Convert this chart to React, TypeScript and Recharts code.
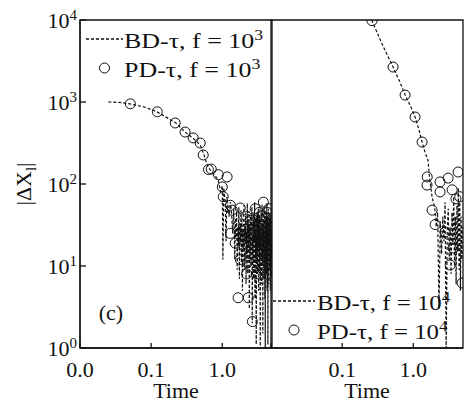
import React from 'react';
import { ComposedChart, Line, Scatter, XAxis, YAxis, ReferenceArea, Legend } from 'recharts';

const FONT = '"Liberation Serif", "Times New Roman", serif';
const INK = '#111';

const timeDomain = [0.01, 5];
const timeTicks = [0.01, 0.1, 1];
const timeLabelsLeft = ['0.0', '0.1', '1.0'];
const timeLabelsRight = ['', '0.1', '1.0'];
const dxDomain = [1, 10000];
const dxTicks = [1, 10, 100, 1000, 10000];
const dxExponents = ['0', '1', '2', '3', '4'];

// BD-tau, f = 10^3   [time, |dX|]
const bdLow = [
  [0.025, 1000], [0.035, 990], [0.05, 950], [0.08, 870], [0.12, 760], [0.18, 620],
  [0.22, 560], [0.3, 430], [0.39, 360], [0.49, 300], [0.55, 230], [0.63, 160],
  [0.72, 140], [0.8, 125], [0.88, 110], [0.95, 80], [1.0, 95], [1.02, 12],
  [1.05, 90], [1.1, 60], [1.13, 20], [1.16, 70], [1.2, 55], [1.25, 40], [1.3, 60],
  [1.35, 45], [1.4, 25], [1.45, 50],
  [1.5, 12], [1.53, 38], [1.56, 22], [1.59, 45], [1.62, 9], [1.65, 30], [1.68, 18],
  [1.71, 52], [1.74, 7], [1.77, 33], [1.8, 20], [1.83, 48], [1.86, 11], [1.89, 36],
  [1.92, 5], [1.95, 28], [1.98, 16], [2.01, 55], [2.04, 9], [2.07, 31], [2.1, 19],
  [2.13, 44], [2.16, 6], [2.19, 26], [2.22, 14], [2.25, 58], [2.28, 8], [2.31, 34],
  [2.34, 21], [2.37, 47], [2.4, 3], [2.43, 29], [2.46, 13], [2.49, 41], [2.52, 10],
  [2.55, 37], [2.58, 17], [2.61, 53], [2.64, 2], [2.67, 24], [2.7, 12], [2.73, 43],
  [2.76, 7], [2.79, 32], [2.82, 19], [2.85, 60], [2.88, 4], [2.91, 27], [2.94, 15],
  [2.97, 39], [3.0, 1.1], [3.03, 23], [3.06, 11], [3.09, 46], [3.12, 8], [3.15, 35],
  [3.18, 18], [3.21, 50], [3.24, 5], [3.27, 29], [3.3, 13], [3.33, 42], [3.36, 9],
  [3.39, 31], [3.42, 1.05], [3.45, 25], [3.48, 16], [3.51, 48], [3.54, 6], [3.57, 33],
  [3.6, 20], [3.63, 56], [3.66, 10], [3.69, 27], [3.72, 1.5], [3.75, 36], [3.78, 14],
  [3.81, 44], [3.84, 7], [3.87, 30], [3.9, 17], [3.93, 52], [3.96, 4], [3.99, 26],
  [4.02, 1.0], [4.05, 38], [4.08, 12], [4.11, 47], [4.14, 8], [4.17, 32], [4.2, 19],
  [4.23, 58], [4.26, 5], [4.29, 24], [4.32, 13], [4.35, 40], [4.38, 1.1], [4.41, 29],
  [4.44, 15], [4.47, 50], [4.5, 6], [4.53, 34], [4.56, 18], [4.59, 45], [4.62, 9],
  [4.65, 28], [4.68, 14], [4.71, 39], [4.74, 5], [4.77, 31], [4.8, 16], [4.83, 42],
  [4.86, 8], [4.89, 25], [4.92, 12],
];

// PD-tau, f = 10^3
const pdLow = [
  [0.051, 950], [0.122, 760], [0.218, 555], [0.3, 430], [0.39, 365], [0.49, 316],
  [0.54, 226], [0.64, 150], [0.7, 152], [0.88, 130], [1.17, 122], [1.0, 92],
  [1.03, 70], [1.3, 55], [1.38, 48], [1.3, 25], [1.52, 19], [1.79, 12], [1.79, 51],
  [2.25, 11], [2.32, 4.1], [1.67, 4.1], [2.65, 2.1], [2.48, 36], [3.78, 60],
  [4.3, 45], [4.7, 22], [4.9, 12], [2.1, 28], [2.7, 18], [3.1, 30], [3.4, 12],
  [3.9, 20], [4.2, 8], [2.9, 50], [3.6, 40],
  [2.0, 18], [2.2, 40], [2.4, 25], [2.5, 14], [2.8, 30], [3.0, 8], [3.2, 22],
  [3.5, 15], [3.7, 28], [3.8, 9], [4.0, 35], [4.1, 14], [4.4, 25], [4.6, 16],
  [4.8, 30], [2.2, 8], [3.3, 45], [4.5, 50],
];

// BD-tau, f = 10^4
const bdHigh = [
  [0.26, 10000], [0.36, 5200], [0.52, 2670], [0.64, 1800], [0.77, 1216], [0.92, 880],
  [1.06, 656], [1.2, 460], [1.33, 325], [1.45, 250], [1.61, 195], [1.69, 122],
  [1.84, 69], [2.0, 52], [2.1, 30], [2.2, 45], [2.3, 3], [2.4, 35], [2.5, 14],
  [2.6, 40], [2.7, 20], [2.8, 60], [2.9, 1.0], [3.0, 25], [3.1, 50], [3.2, 12],
  [3.3, 30], [3.4, 8], [3.5, 45], [3.6, 18], [3.7, 70], [3.8, 10], [3.9, 40],
  [4.0, 6], [4.1, 55], [4.2, 15], [4.3, 90], [4.4, 9], [4.5, 60], [4.6, 5],
  [4.7, 40], [4.8, 12], [4.9, 30],
];

// PD-tau, f = 10^4
const pdHigh = [
  [0.263, 9800], [0.52, 2670], [0.767, 1216], [1.06, 656], [1.33, 325], [1.57, 122],
  [1.56, 97], [2.38, 106], [3.09, 118], [4.27, 140], [2.38, 80], [3.52, 85],
  [1.84, 48], [2.03, 32], [2.8, 26], [3.98, 66], [4.5, 70], [3.63, 16.6],
  [3.3, 10.3], [4.85, 6.2],
];

const legendLow = [
  { label: 'BD-τ, f = 10', exp: '3', mark: 'dash' },
  { label: 'PD-τ, f = 10', exp: '3', mark: 'ring' },
];
const legendHigh = [
  { label: 'BD-τ, f = 10', exp: '4', mark: 'dash' },
  { label: 'PD-τ, f = 10', exp: '4', mark: 'ring' },
];

const rows = (pairs: number[][]) => pairs.map(([t, v]) => ({ t, v }));

const ring = (p: any) => (
  <circle cx={p.cx} cy={p.cy} r={5} fill="none" stroke={INK} strokeWidth={1} />
);

const timeTick = (labels: string[]) => (p: any) => (
  <text x={p.x} y={p.y + 32} textAnchor="middle" fontFamily={FONT} fontSize={22} fill={INK}>
    {labels[p.index]}
  </text>
);

const dxTick = (p: any) => (
  <text x={p.x - 7} y={p.y + 8} textAnchor="end" fontFamily={FONT} fontSize={22} fill={INK}>
    10<tspan dy={-8} fontSize={15}>{dxExponents[p.index]}</tspan>
  </text>
);

const legendBlock = (items: any[], x: number, y: number, gap: number, sampleW: number, textX: number, sx: number) => () => (
  <svg width={466} height={402} style={{ overflow: 'visible' }}>
    {items.map((it, i) => {
      const cy = y + i * gap;
      return (
        <g key={i}>
          {it.mark === 'dash' ? (
            <line x1={x} x2={x + sampleW} y1={cy} y2={cy} stroke={INK} strokeWidth={1.3} strokeDasharray="3 2" />
          ) : (
            <circle cx={x + sampleW / 2} cy={cy} r={5} fill="none" stroke={INK} strokeWidth={1} />
          )}
          <text transform={`translate(${textX},${cy + 9}) scale(${sx},1)`} fontFamily={FONT} fontSize={22} fill={INK}>
            {it.label}
            <tspan dy={-8} fontSize={15}>{it.exp}</tspan>
          </text>
        </g>
      );
    })}
  </svg>
);

const timeTitle = { value: 'Time', position: 'insideBottom' as const, offset: 4, fontFamily: FONT, fontSize: 22, fill: INK };

export default function App() {
  return (
    <div style={{ position: 'absolute', left: 0, top: 0, width: 466, height: 402, background: '#fff' }}>
      <ComposedChart
        width={280}
        height={402}
        margin={{ top: 20, right: 8, bottom: 0, left: 0 }}
        style={{ position: 'absolute', left: 0, top: 0 }}
      >
        <XAxis dataKey="t" type="number" scale="log" domain={timeDomain} ticks={timeTicks} allowDataOverflow
          interval={0} height={54} tickSize={-5} stroke={INK} strokeWidth={1.3}
          tick={timeTick(timeLabelsLeft)} label={timeTitle} />
        <YAxis dataKey="v" type="number" scale="log" domain={dxDomain} ticks={dxTicks} allowDataOverflow
          interval={0} width={80} tickSize={-6} stroke={INK} strokeWidth={1.3} tick={dxTick}
          label={{
            content: () => (
              <text transform="translate(31,184) rotate(-90)" textAnchor="middle" fontFamily={FONT} fontSize={22} fill={INK}>
                |ΔX<tspan dy={5} fontSize={15}>l</tspan><tspan dy={-5}>|</tspan>
              </text>
            ),
          }} />
        <ReferenceArea x1={0.01} x2={5} y1={1} y2={10000} fill="none" stroke={INK} strokeWidth={1.3} />
        <Line data={rows(bdLow)} dataKey="v" stroke={INK} strokeWidth={1.2} strokeDasharray="3 2" dot={false} isAnimationActive={false} />
        <Scatter data={rows(pdLow)} dataKey="v" shape={ring} isAnimationActive={false} />
        <text x={111} y={320} textAnchor="middle" fontFamily={FONT} fontSize={22} fill={INK}>(c)</text>
        <Legend layout="vertical" align="center" verticalAlign="middle"
          wrapperStyle={{ position: 'absolute', left: 0, top: 0, width: 280, height: 402 }}
          content={legendBlock(legendLow, 86, 39, 29, 37, 124, 1.18)} />
      </ComposedChart>

      <ComposedChart
        width={466}
        height={402}
        margin={{ top: 20, right: 3, bottom: 0, left: 271 }}
        style={{ position: 'absolute', left: 0, top: 0 }}
      >
        <XAxis dataKey="t" type="number" scale="log" domain={timeDomain} ticks={timeTicks} allowDataOverflow
          interval={0} height={54} tickSize={-5} stroke={INK} strokeWidth={1.3}
          tick={timeTick(timeLabelsRight)} label={timeTitle} />
        <YAxis dataKey="v" type="number" scale="log" domain={dxDomain} ticks={dxTicks} allowDataOverflow
          interval={0} width={0} tickSize={-6} stroke={INK} strokeWidth={1.3} tick={false} />
        <ReferenceArea x1={0.01} x2={5} y1={1} y2={10000} fill="none" stroke={INK} strokeWidth={1.3} />
        <Line data={rows(bdHigh)} dataKey="v" stroke={INK} strokeWidth={1.2} strokeDasharray="3 2" dot={false} isAnimationActive={false} />
        <Scatter data={rows(pdHigh)} dataKey="v" shape={ring} isAnimationActive={false} />
        <Legend layout="vertical" align="center" verticalAlign="middle"
          wrapperStyle={{ position: 'absolute', left: 0, top: 0, width: 466, height: 402 }}
          content={legendBlock(legendHigh, 273, 301, 29, 42, 317, 1.13)} />
      </ComposedChart>
    </div>
  );
}
